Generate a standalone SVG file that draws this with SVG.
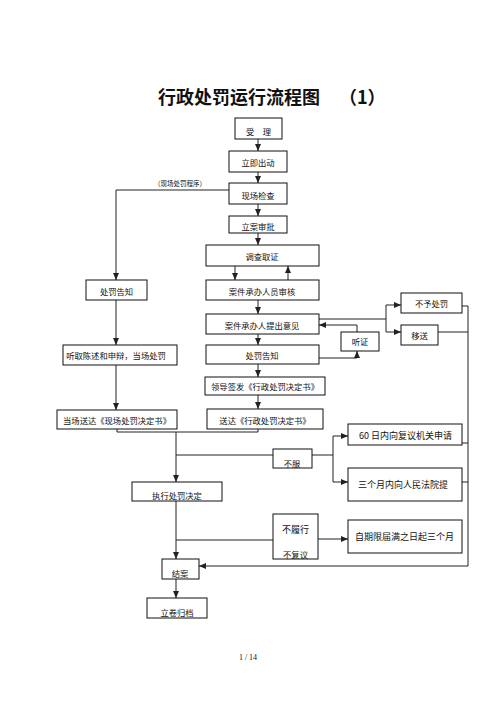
<svg xmlns="http://www.w3.org/2000/svg" width="496" height="702" viewBox="0 0 496 702">
<defs>
<marker id="ah" markerWidth="7" markerHeight="6" refX="7" refY="3" orient="auto" markerUnits="userSpaceOnUse">
<path d="M0,0 L7,3 L0,6 Z" fill="#222"/>
</marker>
</defs>
<style>
rect.b{fill:#fff;stroke:#111;stroke-width:1}
text{font-family:"Noto Sans CJK SC","Noto Sans",sans-serif;fill:#111}
.t{font-size:8.3px;text-anchor:middle}
.r{font-size:9px}
.c{fill:none;stroke:#222;stroke-width:1}
.a{marker-end:url(#ah)}
</style>
<rect width="496" height="702" fill="#fff"/>
<text x="158" y="104" font-size="18" font-weight="bold">行政处罚运行流程图</text>
<text x="339" y="104" font-size="18" font-weight="bold">（1）</text>

<g id="connectors">
<path class="c a" d="M258,139 V151"/>
<path class="c a" d="M258,172 V183"/>
<path class="c a" d="M258,204 V216"/>
<path class="c a" d="M258,233 V245"/>
<path class="c a" d="M235,266 V280"/>
<path class="c a" d="M288,280 V266"/>
<path class="c a" d="M258,300 V314"/>
<path class="c a" d="M258,334 V345"/>
<path class="c a" d="M258,364 V377"/>
<path class="c a" d="M258,395 V409"/>
<path class="c a" d="M229,190 H116 V280"/>
<path class="c a" d="M116,300 V345"/>
<path class="c a" d="M116,365 V410"/>
<path class="c" d="M117,429 V432 H258 V429"/>
<path class="c a" d="M176,432 V482"/>
<path class="c" d="M176,455 H273"/>
<path class="c" d="M312,455 H333"/>
<path class="c a" d="M333,455 V436 H348"/>
<path class="c a" d="M333,455 V482 H348"/>
<path class="c a" d="M176,501 V559"/>
<path class="c" d="M176,540 H273"/>
<path class="c a" d="M318,539 H348"/>
<path class="c a" d="M176,579 V598"/>
<path class="c" d="M319,319 H386"/>
<path class="c a" d="M386,319 V305 H401"/>
<path class="c a" d="M386,319 V332 H401"/>
<path class="c a" d="M357,332 V325 H319"/>
<path class="c a" d="M319,358 H357 V351"/>
<path class="c" d="M462,306 H468"/>
<path class="c" d="M438,332 H468"/>
<path class="c" d="M462,443 H468"/>
<path class="c" d="M462,482 H468"/>
<path class="c a" d="M468,306 V566 H199"/>
</g>

<g id="n1"><rect class="b" x="235" y="118" width="47" height="21"/><text class="t" x="258.5" y="135">受　理</text></g>
<g id="n2"><rect class="b" x="229" y="151" width="58" height="21"/><text class="t" x="258" y="166">立即出动</text></g>
<g id="n3"><rect class="b" x="229" y="183" width="58" height="21"/><text class="t" x="258" y="199">现场检查</text></g>
<text x="180" y="186" font-size="6.5" text-anchor="middle">（现场处罚程序）</text>
<g id="n4"><rect class="b" x="229" y="216" width="58" height="17"/><text class="t" x="258" y="230">立案审批</text></g>
<g id="n5"><rect class="b" x="206" y="245" width="113" height="21"/><text class="t" x="262" y="260">调查取证</text></g>
<g id="n6"><rect class="b" x="206" y="280" width="113" height="20"/><text class="t" x="262" y="295">案件承办人员审核</text></g>
<g id="n7"><rect class="b" x="206" y="314" width="113" height="20"/><text class="t" x="262" y="329">案件承办人提出意见</text></g>
<g id="n8"><rect class="b" x="206" y="345" width="113" height="19"/><text class="t" x="262" y="359">处罚告知</text></g>
<g id="n9"><rect class="b" x="205" y="377" width="120" height="18"/><text class="t" x="265" y="390">领导签发《行政处罚决定书》</text></g>
<g id="n10"><rect class="b" x="207" y="409" width="116" height="20"/><text class="t" x="265" y="424">送达《行政处罚决定书》</text></g>

<g id="l1"><rect class="b" x="86" y="280" width="61" height="20"/><text class="t" x="116.5" y="295">处罚告知</text></g>
<g id="l2"><rect class="b" x="63" y="345" width="114" height="20"/><text class="t" x="116" y="359">听取陈述和申辩，当场处罚</text></g>
<g id="l3"><rect class="b" x="57" y="410" width="120" height="19"/><text class="t" x="117" y="424">当场送达《现场处罚决定书》</text></g>

<g id="n11"><rect class="b" x="401" y="293" width="61" height="20"/><text class="t" x="431.5" y="307">不予处罚</text></g>
<g id="n12"><rect class="b" x="401" y="325" width="37" height="20"/><text class="t" x="419.5" y="339">移送</text></g>
<g id="n13"><rect class="b" x="341" y="332" width="38" height="19"/><text class="t" x="360" y="345">听证</text></g>

<g id="n14"><rect class="b" x="273" y="449" width="39" height="19"/><text class="t" x="292" y="467">不服</text></g>
<g id="n15"><rect class="b" x="348" y="424" width="114" height="21"/><text class="r" x="359" y="439">60 日内向复议机关申请</text></g>
<g id="n16"><rect class="b" x="348" y="468" width="114" height="33"/><text class="r" x="358" y="488">三个月内向人民法院提</text></g>
<g id="n17"><rect class="b" x="132" y="482" width="90" height="19"/><text class="t" x="177" y="499">执行处罚决定</text></g>
<g id="n18"><rect class="b" x="273" y="514" width="45" height="45"/><text class="r" x="295.5" y="533" text-anchor="middle">不履行</text><text class="t" x="295.5" y="558">不复议</text></g>
<g id="n19"><rect class="b" x="348" y="520" width="114" height="33"/><text class="r" x="355" y="540">自期限届满之日起三个月</text></g>
<g id="n20"><rect class="b" x="162" y="559" width="37" height="20"/><text class="t" x="180" y="577">结案</text></g>
<g id="n21"><rect class="b" x="147" y="598" width="60" height="20"/><text class="t" x="177" y="616">立卷归档</text></g>

<text x="248" y="660" font-family="Liberation Serif, serif" font-size="8" text-anchor="middle" style="font-family:'Liberation Serif',serif">1  /  14</text>
</svg>
